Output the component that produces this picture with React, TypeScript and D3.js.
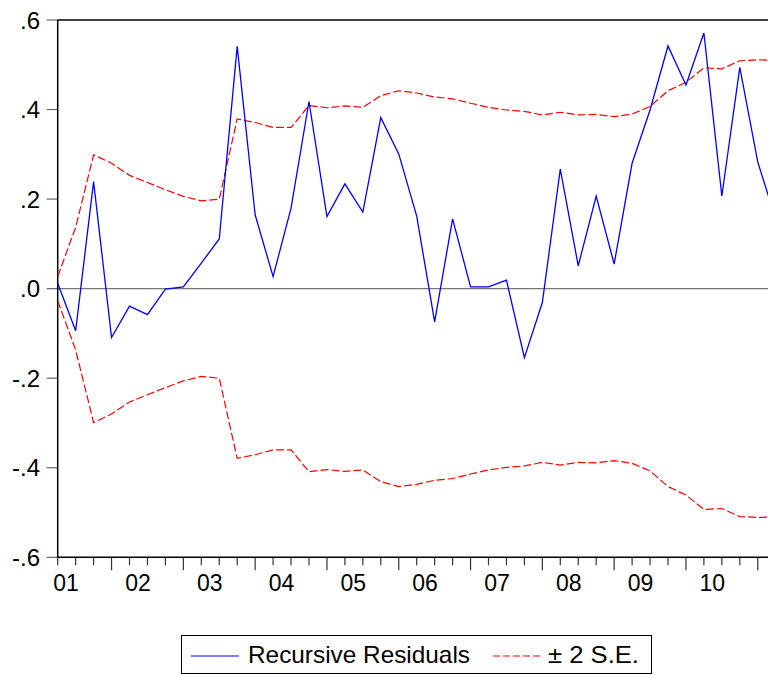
import React from "react";
import { scaleLinear, line, range } from "d3";

// quarterly recursive residuals, 41 obs (2001 .. 2011)
const residuals = [
  0.012, -0.094, 0.239, -0.109, -0.039, -0.058, -0.001, 0.004, 0.057, 0.111,
  0.541, 0.165, 0.027, 0.18, 0.418, 0.161, 0.234, 0.171, 0.382, 0.301,
  0.162, -0.074, 0.156, 0.004, 0.004, 0.019, -0.154, -0.031, 0.267, 0.051,
  0.207, 0.055, 0.28, 0.399, 0.542, 0.455, 0.571, 0.207, 0.494, 0.283, 0.155,
];
const seUpper = [
  0.027, 0.137, 0.299, 0.28, 0.253, 0.237, 0.221, 0.206, 0.196, 0.2,
  0.379, 0.371, 0.36, 0.36, 0.409, 0.404, 0.408, 0.405, 0.431, 0.442,
  0.437, 0.428, 0.424, 0.414, 0.405, 0.399, 0.396, 0.388, 0.394, 0.388,
  0.389, 0.384, 0.39, 0.407, 0.442, 0.461, 0.493, 0.491, 0.509, 0.511, 0.51,
];
const seLower = [
  -0.027, -0.137, -0.299, -0.28, -0.253, -0.237, -0.221, -0.206, -0.196, -0.2,
  -0.379, -0.371, -0.36, -0.36, -0.409, -0.404, -0.408, -0.405, -0.431, -0.442,
  -0.437, -0.428, -0.424, -0.414, -0.405, -0.399, -0.396, -0.388, -0.394, -0.388,
  -0.389, -0.384, -0.39, -0.407, -0.442, -0.461, -0.493, -0.491, -0.509, -0.511, -0.51,
];
const yearLabels = ["01", "02", "03", "04", "05", "06", "07", "08", "09", "10"];
const yTicks = [0.6, 0.4, 0.2, 0, -0.2, -0.4, -0.6];
const yTickLabels = [".6", ".4", ".2", ".0", "-.2", "-.4", "-.6"];

const W = 768;
const H = 675;
const FONT = "'Liberation Sans', Arial, sans-serif";

export default function App() {
  const x = scaleLinear().domain([0, 40]).range([57.7, 775.7]);
  const y = scaleLinear().domain([-0.6, 0.6]).range([557.3, 20]);
  const left = x(0);
  const bottom = y(-0.6);
  const top = y(0.6);

  const path = line<number>()
    .x((_, i) => x(i))
    .y((d) => y(d));

  const minor = range(0, residuals.length);

  return (
    <div style={{ position: "absolute", left: 0, top: 0 }}>
      <svg width={W} height={H} style={{ display: "block", background: "#fff" }}>
        <defs>
          <clipPath id="plot">
            <rect x={left} y={top - 2} width={W - left} height={bottom - top + 4} />
          </clipPath>
        </defs>

        {/* zero line */}
        <line x1={left} x2={W} y1={y(0)} y2={y(0)} stroke="#777" strokeWidth={1.3} />

        {/* y ticks + labels */}
        {yTicks.map((t, i) => (
          <g key={t}>
            <line x1={46.7} x2={left} y1={y(t)} y2={y(t)} stroke="#666" strokeWidth={1.2} />
            <text
              x={40}
              y={y(t) + 8.5}
              textAnchor="end"
              fontFamily={FONT}
              fontSize={24}
              fill="#000"
            >
              {yTickLabels[i]}
            </text>
          </g>
        ))}

        {/* x ticks */}
        {minor.map((i) => (
          <line
            key={i}
            x1={x(i)}
            x2={x(i)}
            y1={bottom}
            y2={i % 4 === 3 ? bottom + 13 : bottom + 8}
            stroke="#333"
            strokeWidth={1.2}
          />
        ))}
        {yearLabels.map((lab, k) => (
          <text
            key={lab}
            x={x(4 * k + 0.47)}
            y={591}
            textAnchor="middle"
            fontFamily={FONT}
            fontSize={23}
            fill="#000"
          >
            {lab}
          </text>
        ))}

        {/* frame */}
        <line x1={left} x2={W} y1={top} y2={top} stroke="#000" strokeWidth={1.5} />
        <line x1={left} x2={left} y1={top} y2={bottom} stroke="#000" strokeWidth={1.5} />
        <line x1={left} x2={W} y1={bottom} y2={bottom} stroke="#000" strokeWidth={1.5} />

        <g clipPath="url(#plot)" fill="none">
          <path d={path(seUpper) || ""} stroke="#ff0000" strokeWidth={1.2} strokeDasharray="8,3" />
          <path d={path(seLower) || ""} stroke="#ff0000" strokeWidth={1.2} strokeDasharray="8,3" />
          <path d={path(residuals) || ""} stroke="#0000ff" strokeWidth={1.3} />
        </g>

        {/* legend */}
        <rect x={181.5} y={635.5} width={470} height={38} fill="#fff" stroke="#000" strokeWidth={1} />
        <line x1={191} x2={239} y1={656} y2={656} stroke="#0000ff" strokeWidth={1.2} />
        <text
          x={248}
          y={663}
          fontFamily={FONT}
          fontSize={24}
          fill="#000"
          textLength={222}
          lengthAdjust="spacingAndGlyphs"
        >
          Recursive Residuals
        </text>
        <line
          x1={493}
          x2={541}
          y1={656}
          y2={656}
          stroke="#ff0000"
          strokeWidth={1.2}
          strokeDasharray="7,3"
        />
        <text
          x={548}
          y={663}
          fontFamily={FONT}
          fontSize={24}
          fill="#000"
          textLength={91}
          lengthAdjust="spacingAndGlyphs"
        >
          ± 2 S.E.
        </text>
      </svg>
    </div>
  );
}
